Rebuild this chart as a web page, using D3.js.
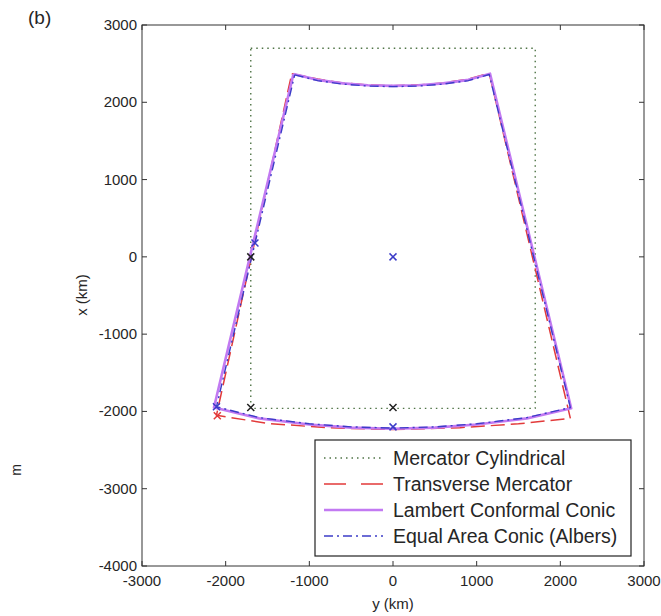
<!DOCTYPE html>
<html>
<head>
<meta charset="utf-8">
<script src="https://cdn.jsdelivr.net/npm/d3@7"></script>
<style>
  body { margin: 0; background: #fff; }
  svg { display: block; }
  text { font-family: "Liberation Sans", Arial, sans-serif; fill: #262626; }
</style>
</head>
<body>
<svg id="chart" width="661" height="616"></svg>
<script>
// Region outline (y_km, x_km) in each projection
const mercatorCyl = [[-1700, 2700], [1700, 2700], [1700, -1960], [-1700, -1960], [-1700, 2700]];
const transverseMerc = [
  [-1210, 2370], [-900, 2300], [-600, 2250], [-300, 2225], [0, 2215], [300, 2225], [600, 2250], [900, 2300], [1150, 2375],
  [2120, -2090], [1500, -2160], [800, -2210], [0, -2235], [-800, -2210], [-1500, -2155], [-2110, -2050], [-1210, 2370]
];
const lambertConic = [
  [-1190, 2365], [-900, 2290], [-600, 2245], [-300, 2220], [0, 2212], [300, 2220], [600, 2245], [900, 2290], [1160, 2370],
  [2130, -1960], [1600, -2090], [1000, -2170], [500, -2210], [0, -2225], [-500, -2210], [-1000, -2170], [-1600, -2090], [-2140, -1950], [-1190, 2365]
];
const albersConic = [
  [-1175, 2355], [-900, 2280], [-600, 2235], [-300, 2210], [0, 2202], [300, 2210], [600, 2235], [900, 2280], [1150, 2360],
  [2120, -1950], [1600, -2080], [1000, -2160], [500, -2200], [0, -2215], [-500, -2200], [-1000, -2160], [-1600, -2080], [-2110, -1940], [-1175, 2355]
];

// Reference points
const blackMarks = [[-1700, 0], [-1700, -1950], [0, -1950]];
const blueMarks = [[0, 0], [0, -2200], [-1650, 180], [-2110, -1940]];
const redMarks = [[-2100, -2055]];

const xTicks = [-3000, -2000, -1000, 0, 1000, 2000, 3000];
const yTicks = [-4000, -3000, -2000, -1000, 0, 1000, 2000, 3000];

const legendNames = ["Mercator Cylindrical", "Transverse Mercator", "Lambert Conformal Conic", "Equal Area Conic (Albers)"];

const svg = d3.select("#chart");
const L = 142, R = 644, T = 25, B = 566;
const x = d3.scaleLinear().domain([-3000, 3000]).range([L, R]);
const y = d3.scaleLinear().domain([-4000, 3000]).range([B, T]);

const styles = [
  { color: "#4f7446", width: 1.4, dash: "1.5,4" },
  { color: "#e23a3a", width: 1.5, dash: "14,6" },
  { color: "#c27af2", width: 2.6, dash: null },
  { color: "#3c3cc8", width: 1.4, dash: "9,4,2,4" }
];
const series = [mercatorCyl, transverseMerc, lambertConic, albersConic];

const line = d3.line().x(d => x(d[0])).y(d => y(d[1]));

// Series outlines
series.forEach((pts, i) => {
  svg.append("path")
    .attr("d", line(pts))
    .attr("fill", "none")
    .attr("stroke", styles[i].color)
    .attr("stroke-width", styles[i].width)
    .attr("stroke-dasharray", styles[i].dash)
    .attr("stroke-linejoin", "round");
});

// Cross markers
function crosses(data, color) {
  const s = 3.5;
  svg.append("g").selectAll("path").data(data).join("path")
    .attr("d", d => {
      const cx = x(d[0]), cy = y(d[1]);
      return `M${cx - s},${cy - s}L${cx + s},${cy + s}M${cx - s},${cy + s}L${cx + s},${cy - s}`;
    })
    .attr("stroke", color).attr("stroke-width", 1.5).attr("fill", "none");
}
crosses(redMarks, "#e23a3a");
crosses(blackMarks, "#222");
crosses(blueMarks, "#3c3cc8");

// Axes box with inward ticks on all sides
const tickLen = 5;
const axisColor = "#333";
const gAxes = svg.append("g");
gAxes.append("rect").attr("x", L).attr("y", T).attr("width", R - L).attr("height", B - T)
  .attr("fill", "none").attr("stroke", axisColor).attr("stroke-width", 1);

xTicks.forEach(v => {
  const px = x(v);
  gAxes.append("line").attr("x1", px).attr("x2", px).attr("y1", B).attr("y2", B - tickLen).attr("stroke", axisColor);
  gAxes.append("line").attr("x1", px).attr("x2", px).attr("y1", T).attr("y2", T + tickLen).attr("stroke", axisColor);
  gAxes.append("text").attr("x", px).attr("y", B + 20).attr("text-anchor", "middle")
    .attr("font-size", 15).attr("fill", "#333").text(v);
});
yTicks.forEach(v => {
  const py = y(v);
  gAxes.append("line").attr("x1", L).attr("x2", L + tickLen).attr("y1", py).attr("y2", py).attr("stroke", axisColor);
  gAxes.append("line").attr("x1", R).attr("x2", R - tickLen).attr("y1", py).attr("y2", py).attr("stroke", axisColor);
  gAxes.append("text").attr("x", L - 5).attr("y", py + 5).attr("text-anchor", "end")
    .attr("font-size", 15).attr("fill", "#333").text(v);
});

// Axis titles
svg.append("text").attr("x", (L + R) / 2).attr("y", 609).attr("text-anchor", "middle")
  .attr("font-size", 15).text("y (km)");
svg.append("text").attr("transform", "translate(87,295) rotate(-90)").attr("text-anchor", "middle")
  .attr("font-size", 15).text("x (km)");

// Panel label
svg.append("text").attr("x", 28).attr("y", 24).attr("font-size", 19).text("(b)");
// Edge of neighbouring label
svg.append("text").attr("transform", "translate(21,470) rotate(-90)").attr("text-anchor", "middle")
  .attr("font-size", 14).attr("fill", "#555").text("m");

// Legend
const lg = svg.append("g");
const lx0 = 315, ly0 = 440, lw = 316, lh = 116;
lg.append("rect").attr("x", lx0).attr("y", ly0).attr("width", lw).attr("height", lh)
  .attr("fill", "#fff").attr("stroke", "#222").attr("stroke-width", 1.2);
legendNames.forEach((name, i) => {
  const cy = 458 + i * 26;
  lg.append("line").attr("x1", 324).attr("x2", 383).attr("y1", cy).attr("y2", cy)
    .attr("stroke", styles[i].color).attr("stroke-width", styles[i].width)
    .attr("stroke-dasharray", styles[i].dash === "14,6" ? "22,15" : styles[i].dash);
  lg.append("text").attr("x", 393).attr("y", cy + 6.5).attr("font-size", 19.5).text(name);
});
</script>
</body>
</html>
